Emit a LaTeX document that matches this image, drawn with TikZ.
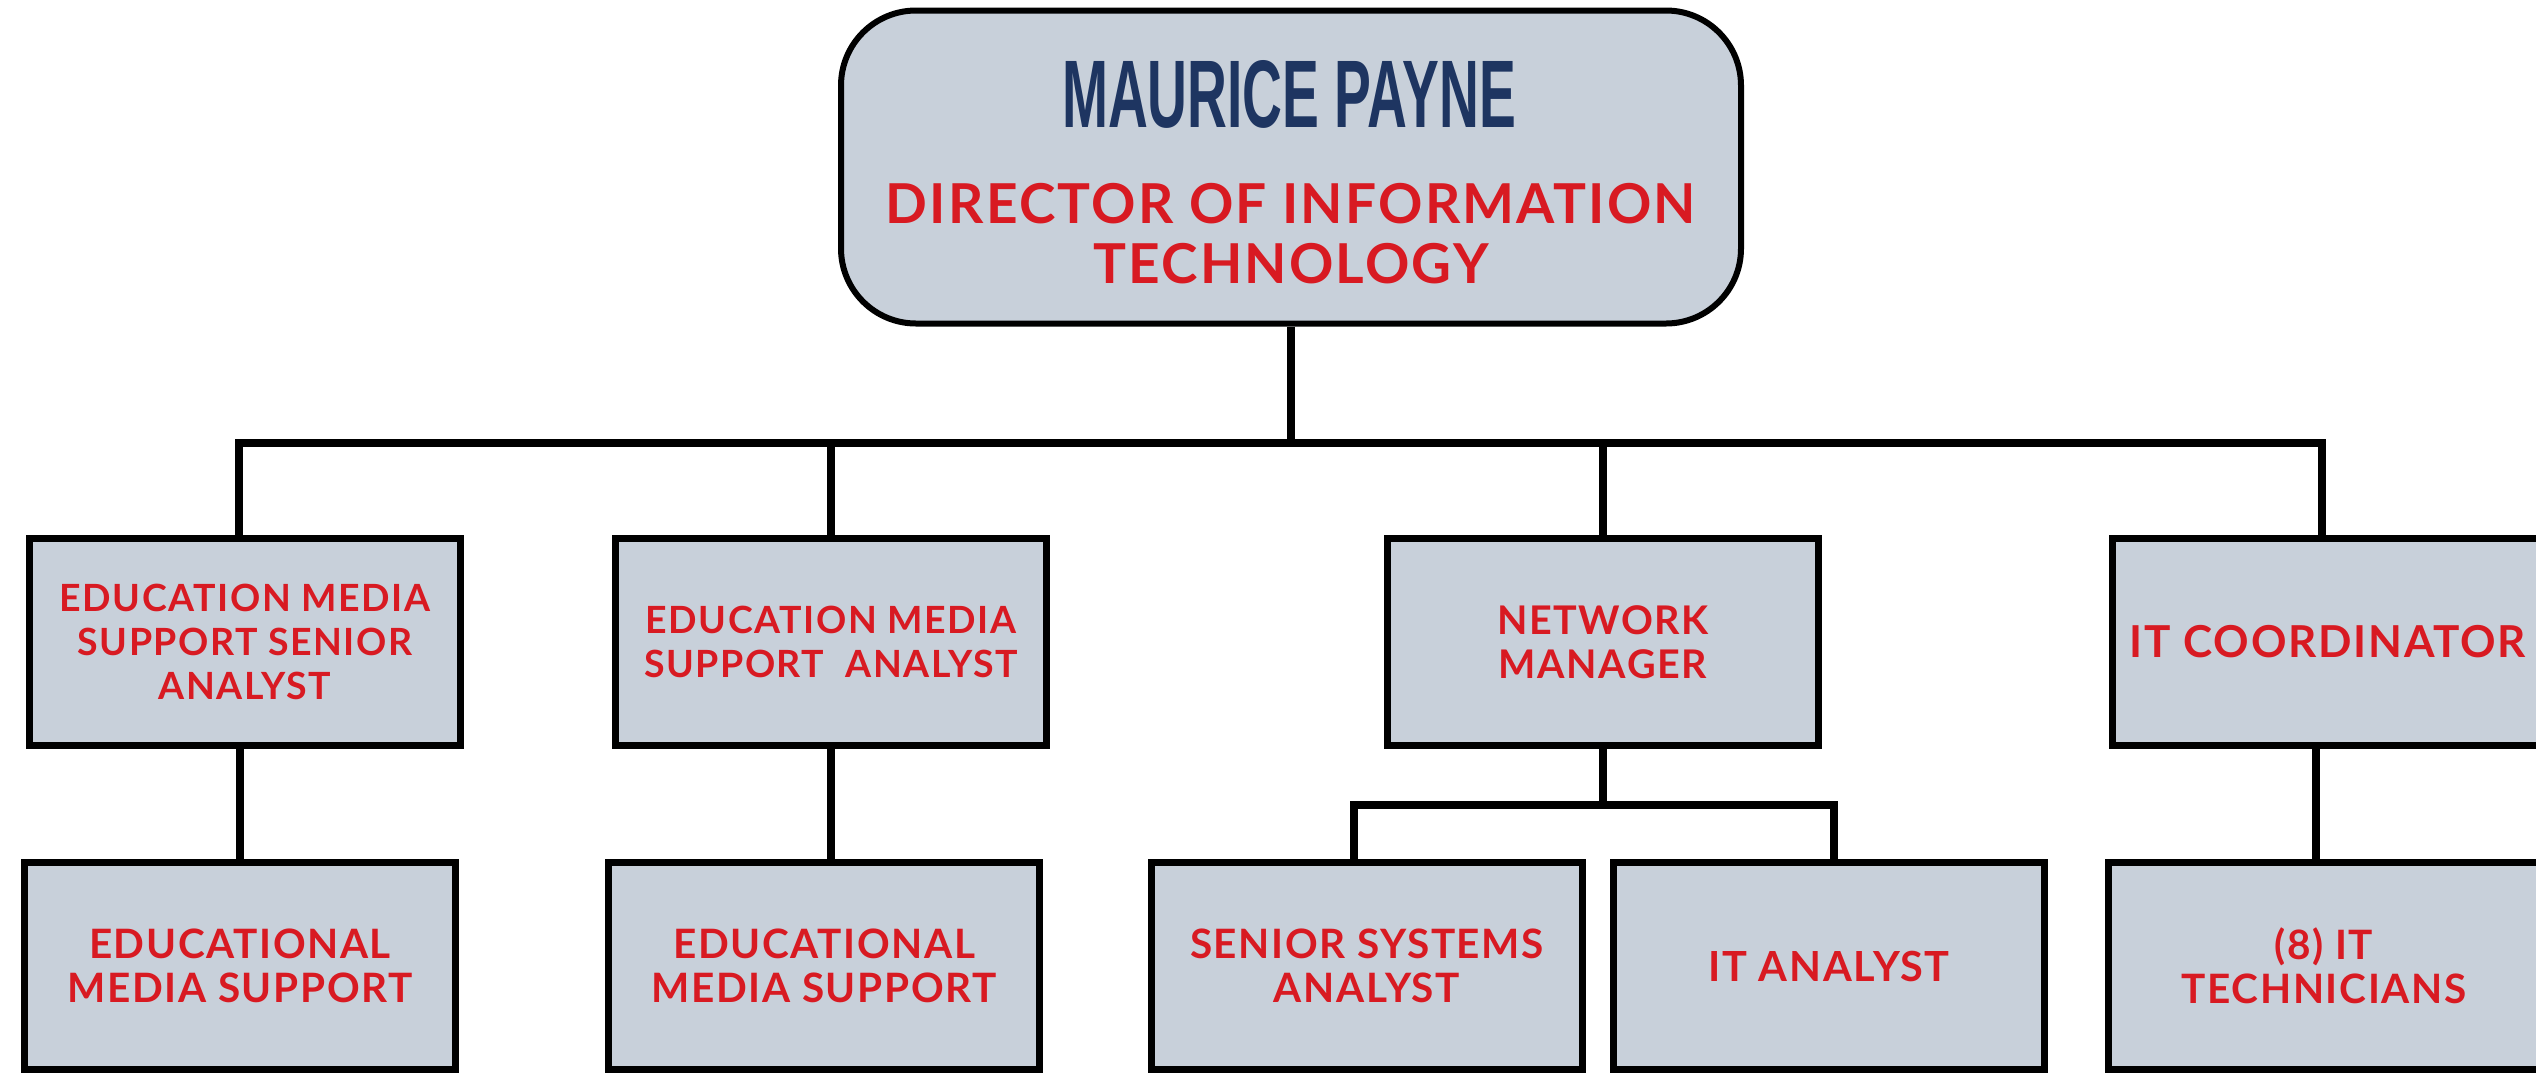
\documentclass[tikz,border=0pt]{standalone}
\usepackage{fontspec}
\setmainfont{Lato}
\newfontfamily\lato[LetterSpace=4]{Lato}
\newfontfamily\titlefont{Liberation Sans}
\definecolor{boxfill}{HTML}{C8D0DA}
\definecolor{rolered}{HTML}{D81A22}
\definecolor{navy}{HTML}{1E3561}
\newcommand{\fsz}[1]{\fontsize{#1}{44}\selectfont}
\tikzset{
  box/.style={draw=black, line width=7pt, fill=boxfill, minimum width=431pt, minimum height=207pt,
    inner sep=0pt, align=center, text=rolered, font=\lato\bfseries\fsz{37.5}},
  topbox/.style={draw=black, line width=6pt, fill=boxfill, rounded corners=75pt,
    minimum width=900pt, minimum height=313pt},
  conn/.style={draw=black, line width=8pt, line join=miter},
}
\begin{document}
\begin{tikzpicture}[x=1pt,y=-1pt]
\useasboundingbox (0,0) rectangle (2536,1072);
\clip (0,0) rectangle (2536,1072);
% top
\node[topbox] (top) at (1291,167) {};
\node[text=navy, font=\titlefont\bfseries\fontsize{96}{96}\selectfont, inner sep=0pt] (name) at (1289,94) {\scalebox{0.575}[1]{MAURICE PAYNE}};
\node[text=rolered, font=\lato\bfseries\fontsize{55}{60}\selectfont, align=center, inner sep=0pt] (title) at (1291,234) {DIRECTOR OF INFORMATION\\TECHNOLOGY};
% level 2
\node[box] (b1) at (245,642) {EDUCATION MEDIA\\SUPPORT SENIOR\\ANALYST};
\node[box] (b2) at (831,642) {EDUCATION MEDIA\\SUPPORT\ \ ANALYST};
\node[box, font=\lato\bfseries\fsz{39.5}] (b3) at (1603,642) {NETWORK\\MANAGER};
\node[box, font=\lato\bfseries\fsz{44}] (b4) at (2328,642) {IT COORDINATOR};
% level 3
\node[box, font=\lato\bfseries\fsz{40.5}] (c1) at (240,966) {EDUCATIONAL\\MEDIA SUPPORT};
\node[box, font=\lato\bfseries\fsz{40.5}] (c2) at (824,966) {EDUCATIONAL\\MEDIA SUPPORT};
\node[box, font=\lato\bfseries\fsz{40.5}] (c3) at (1367,966) {SENIOR SYSTEMS\\ANALYST};
\node[box, font=\lato\bfseries\fsz{41.5}] (c4) at (1829,966) {IT ANALYST};
\node[box, font=\lato\bfseries\fsz{40.5}] (c5) at (2324,966) {(8) IT\\TECHNICIANS};
% connectors
\coordinate (bus) at (0,443);
\coordinate (nmbus) at (0,805);
\coordinate (b1top) at (239,537);
\coordinate (b4top) at (2322,537);
\coordinate (c3top) at (1354,862);
\coordinate (c4top) at (1834,862);
\coordinate (b4bot) at (2316,746);
\draw[conn] (top.south) -- (top.south |- bus);
\draw[conn] (b1top) |- (b4top |- bus) -- (b4top);
\draw[conn] (b2.north) -- (b2.north |- bus);
\draw[conn] (b3.north) -- (b3.north |- bus);
\draw[conn] (c1.north) -- (c1.north |- b1.south);
\draw[conn] (b2.south) -- (b2.south |- c2.north);
\draw[conn] (b3.south) -- (b3.south |- nmbus);
\draw[conn] (c3top) |- (c4top |- nmbus) -- (c4top);
\draw[conn] (b4bot) -- (b4bot |- c5.north);
\end{tikzpicture}
\end{document}
